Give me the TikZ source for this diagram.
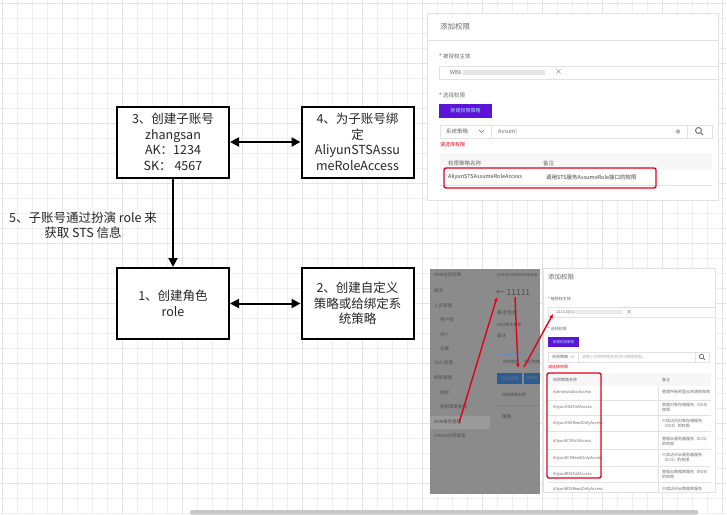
\documentclass[tikz,border=0pt]{standalone}
\usepackage{fontspec}
\setmainfont{Noto Sans CJK SC}
\usetikzlibrary{arrows.meta}

\definecolor{gridminor}{HTML}{EFEFEF}
\definecolor{gridmajor}{HTML}{E3E3E3}
\definecolor{inktext}{HTML}{262626}
\definecolor{uitext}{HTML}{6A6A6A}
\definecolor{uiline}{HTML}{E2E2E2}
\definecolor{uipurple}{HTML}{5C14D6}
\definecolor{penred}{HTML}{E3001C}
\definecolor{dimpanel}{HTML}{8B8B8B}
\definecolor{dimband}{HTML}{9A9A9A}
\definecolor{dimtext}{HTML}{4F4F4F}
\definecolor{dimblue}{HTML}{2B5C98}

\tikzset{
  stepbox/.style={draw, line width=2pt, fill=white, minimum width=112pt,
    minimum height=71pt, align=center, text=inktext, inner sep=1pt,
    font=\fontsize{12.5}{15.5}\selectfont},
  link/.style={line width=2pt, -{Triangle[length=9pt,width=9pt]}},
  duo/.style={line width=2pt,
    {Triangle[length=9pt,width=9pt]}-{Triangle[length=9pt,width=9pt]}},
  uitxt/.style={anchor=west, inner sep=0pt, text=uitext,
    font=\fontsize{5.5}{6.5}\selectfont},
  uismall/.style={uitxt, font=\fontsize{4}{5}\selectfont, align=left},
  graytxt/.style={uitxt, text=dimtext, font=\fontsize{4.5}{5.5}\selectfont},
  redpen/.style={penred, line width=1.4pt, -{Latex[length=4pt,width=4pt]}},
  redframe/.style={draw=penred, line width=1.4pt, rounded corners=2pt}
}

\begin{document}
\begin{tikzpicture}[x=1pt, y=-1pt]

  \useasboundingbox[fill=white] (0,0) rectangle (727,514);

  % background grid
  \foreach \gx in {2,17,...,722} \draw[gridminor, line width=0.6pt] (\gx,0) -- (\gx,514);
  \foreach \gy in {3,18,...,513} \draw[gridminor, line width=0.6pt] (0,\gy) -- (727,\gy);
  \foreach \gx in {2,62,...,722} \draw[gridmajor, line width=0.6pt] (\gx,0) -- (\gx,514);
  \foreach \gy in {3,63,...,513} \draw[gridmajor, line width=0.6pt] (0,\gy) -- (727,\gy);

  % flow
  \node[stepbox] (sub) at (173,142) {3、创建子账号\\zhangsan\\AK：1234\\SK： 4567};
  \node[stepbox] (bind) at (357.5,142) {4、为子账号绑\\定\\AliyunSTSAssu\\meRoleAccess};
  \node[stepbox] (role) at (173,303.5) {1、创建角色\\role};
  \node[stepbox] (policy) at (357.5,303.5) {2、创建自定义\\策略或给绑定系\\统策略};
  \node[align=center, text=inktext, font=\fontsize{12.5}{15.5}\selectfont]
    (assume) at (83,225) {5、子账号通过扮演 role 来\\获取 STS 信息};

  \draw[duo] (sub) -- (bind);
  \draw[link] (sub) -- (role);
  \draw[duo] (role) -- (policy);

  % screenshot: add permission (top)
  \begin{scope}
    \clip (427,13) rectangle (719,201);
    \draw[uiline, fill=white] (427,13) rectangle (718,200);
    \node[uitxt, font=\fontsize{7.5}{9}\selectfont] (addTitle) at (440,27) {添加权限};
    \draw[uiline] (427,40) -- (718,40);
    \node[uitxt] (grantee) at (439,56) {\textcolor{penred}{*} 被授权主体};
    \draw[uiline, line width=0.8pt] (439,66) rectangle (722,79);
    \node[uitxt] (granteeId) at (450,72.5) {WB6};
    \fill[black!10] (463,70) rectangle (545,75);
    \node[uitxt, font=\fontsize{7}{8}\selectfont] (granteeX) at (555,72.5) {×};
    \node[uitxt] (choose) at (439,95) {\textcolor{penred}{*} 选择权限};
    \node[fill=uipurple, minimum width=53pt, minimum height=14pt, inner sep=0pt,
      text=cyan!35, font=\fontsize{5}{6}\selectfont] (newPolicy) at (465.5,111) {新建权限策略};
    \draw[uiline, line width=0.8pt] (440,125) rectangle (712,138);
    \draw[uiline, line width=0.8pt] (491,125) -- (491,138) (687,125) -- (687,138);
    \node[uitxt] (sysPolicy) at (446,131.5) {系统策略};
    \draw[uitext, line width=0.4pt] (479,130) -- (481.5,132.5) -- (484,130);
    \node[uitxt] (query) at (498,131.5) {Assum|};
    \fill[black!30] (678,131.5) circle (2.2pt);
    \draw[uitext, line width=0.9pt] (698.5,130.5) circle (3pt) (700.6,132.6) -- (703,135);
    \node[uitxt, text=penred, font=\fontsize{5}{6}\selectfont] (pickHint) at (440,145) {请选择权限};
    \fill[black!3] (440,153) rectangle (712,170);
    \node[uitxt] (colName) at (448,163) {权限策略名称};
    \node[uitxt] (colNote) at (543,163) {备注};
    \node[uitxt, text=black!75] (stsName) at (448,177) {AliyunSTSAssumeRoleAccess};
    \node[uitxt, text=black!75] (stsNote) at (546,177) {调用STS服务AssumeRole接口的权限};
    \draw[uiline] (440,185) -- (712,185);
    \draw[redframe] (444,168) rectangle (656,188);
  \end{scope}

  % screenshot: RAM role page (greyed)
  \begin{scope}
    \clip (430,269) rectangle (540,494);
    \fill[dimpanel] (430,269) rectangle (540,494);
    \fill[dimband] (430,416) rectangle (490,429);
    \foreach \ny/\nt/\nx [count=\i] in {275/RAM访问控制/434, 291/概览/434,
        306/人员管理/434, 320/用户组/440, 335/用户/440, 349/设置/440,
        363/SSO 管理/434, 378/权限管理/434, 393/授权/440, 407/权限策略管理/440,
        422/RAM角色管理/434, 436/OAuth应用管理/434}
      \node[graytxt] (nav\i) at (\nx,\ny) {\nt};
    \node[graytxt, font=\fontsize{3.6}{4.5}\selectfont] (crumbA) at (497,275) {RAM访问控制};
    \node[graytxt, font=\fontsize{3.6}{4.5}\selectfont] (crumbB) at (519,275) {RAM角色管};
    \node[graytxt, font=\fontsize{8.5}{10}\selectfont] (roleName) at (496,292) {← 11111};
    \node[graytxt, font=\fontsize{5}{6}\selectfont] (baseInfo) at (497,313) {基本信息};
    \node[graytxt, font=\fontsize{4}{5}\selectfont] (roleLabel) at (497,325) {RAM角色名称};
    \node[graytxt] (noteLabel) at (497,336) {备注};
    \draw[dimblue!70, line width=0.8pt] (497,354) -- (523,354);
    \node[graytxt, font=\fontsize{4}{5}\selectfont] (tabPerm) at (503,362) {权限管理};
    \node[graytxt, font=\fontsize{4}{5}\selectfont] (tabTrust) at (524,362) {信任策略};
    \node[fill=dimblue, minimum width=25pt, minimum height=11pt, inner sep=0pt,
      text=black!55, font=\fontsize{4.5}{5}\selectfont] (addPerm) at (509.5,378.5) {添加权限};
    \node[fill=dimblue, minimum width=16pt, minimum height=11pt, inner sep=0pt,
      anchor=west, text=black!55, font=\fontsize{3.8}{5}\selectfont] (finePerm) at (524,378.5) {精确授};
    \node[graytxt, font=\fontsize{4}{5}\selectfont] (permCol) at (502,395) {权限策略名称};
    \draw[black!50, line width=0.4pt] (497,405) -- (540,405);
    \node[graytxt] (permRow) at (502,417) {策略};
  \end{scope}

  % screenshot: add permission (bottom)
  \begin{scope}
    \clip (543,268) rectangle (716,492);
    \draw[uiline, fill=white] (543,268) rectangle (715,492);
    \node[uitxt, font=\fontsize{6.5}{7.5}\selectfont] (addTitle2) at (548,277) {添加权限};
    \node[uismall] (grantee2) at (548,299) {\textcolor{penred}{*} 被授权主体};
    \draw[uiline, line width=0.6pt] (548,307) rectangle (716,317);
    \node[uismall] (granteeId2) at (556,312) {11111@1};
    \fill[black!8] (573,310) rectangle (622,314);
    \node[uismall, font=\fontsize{6}{7}\selectfont] (granteeX2) at (626,312) {×};
    \node[uismall] (choose2) at (548,329) {\textcolor{penred}{*} 选择权限};
    \node[fill=uipurple, minimum width=31pt, minimum height=10pt, inner sep=0pt,
      text=cyan!35, font=\fontsize{3.5}{4}\selectfont] (newPolicy2) at (563.5,342) {新建权限策略};
    \draw[uiline, line width=0.6pt] (548,352) rectangle (709,362);
    \draw[uiline, line width=0.6pt] (578,352) -- (578,362) (695,352) -- (695,362);
    \node[uismall] (sysPolicy2) at (552,357) {系统策略};
    \draw[uitext, line width=0.3pt] (571,356) -- (572.5,357.5) -- (574,356);
    \node[uismall, text=black!30] (placeholder) at (582,357) {请输入权限策略名称进行模糊搜索。};
    \draw[uitext, line width=0.7pt] (701.5,356.5) circle (2.2pt) (703,358) -- (705,360);
    \node[uismall, text=penred] (pickHint2) at (548,367) {请选择权限};
    \fill[black!3] (548,373) rectangle (711,386);
    \node[uismall] (colName2) at (553,380) {权限策略名称};
    \node[uismall] (colNote2) at (662,380) {备注};
    \draw[uiline, line width=0.4pt] (658,386) -- (658,492);
    \foreach \ry/\rn/\rt [count=\i] in {392/AdministratorAccess/{管理所有阿里云资源的权限},
        407/AliyunOSSFullAccess/{管理对象存储服务（OSS）\\权限},
        423/AliyunOSSReadOnlyAccess/{只读访问对象存储服务\\（OSS）的权限},
        441/AliyunECSFullAccess/{管理云服务器服务（ECS）\\的权限},
        458/AliyunECSReadOnlyAccess/{只读访问云服务器服务\\（ECS）的权限},
        474/AliyunRDSFullAccess/{管理云数据库服务（RDS）\\的权限},
        489/AliyunRDSReadOnlyAccess/{只读访问云数据库服务}} {
      \node[uismall] (pname\i) at (553,\ry) {\rn};
      \node[uismall] (pnote\i) at (662,\ry) {\rt};
      \draw[uiline, line width=0.4pt] (548,\ry+8) -- (711,\ry+8);
    }
    \draw[redframe] (547,373) rectangle (601,478);
  \end{scope}

  % red markup arrows
  \coordinate (navRam) at (459,423);
  \coordinate (nameTip) at (497,297);
  \coordinate (nameTail) at (515,297);
  \coordinate (btnTip) at (518,368);
  \coordinate (btnTail) at (524,367);
  \coordinate (inputTip) at (553,314);
  \draw[redpen] (navRam) -- (nameTip);
  \draw[redpen] (nameTail) -- (btnTip);
  \draw[redpen] (btnTail) -- (inputTip);

  % scroll bar
  \fill[black!22, rounded corners=1.5pt] (190,510) rectangle (698,514.5);

\end{tikzpicture}
\end{document}
